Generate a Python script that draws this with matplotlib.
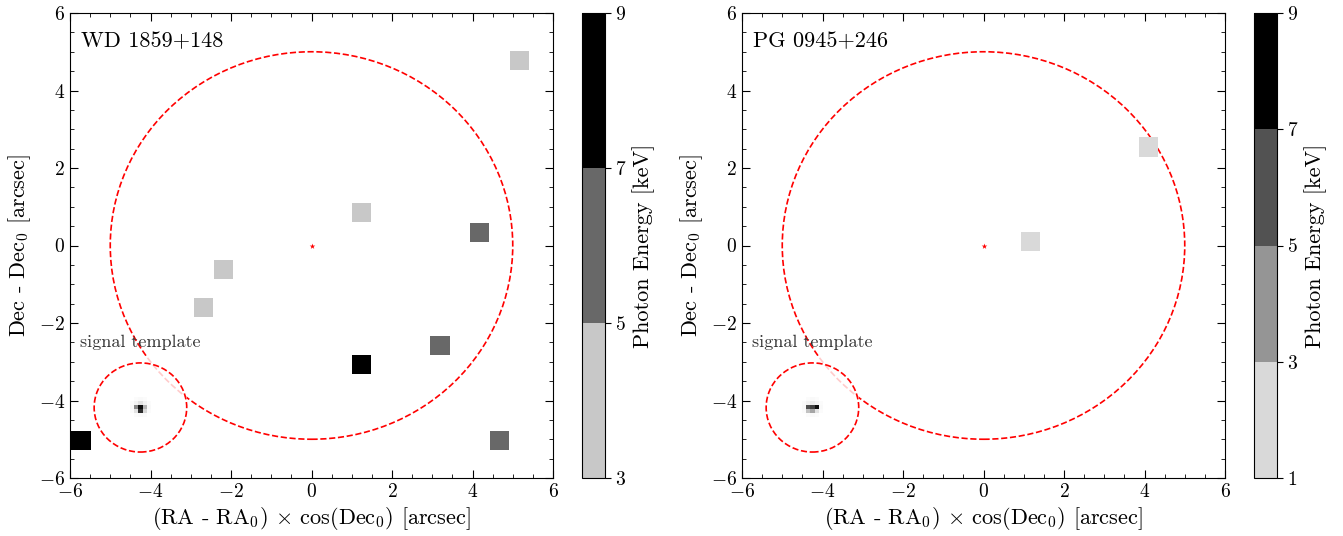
import matplotlib
matplotlib.use("Agg")
import matplotlib.pyplot as plt
import numpy as np
from matplotlib.colors import ListedColormap, BoundaryNorm
from matplotlib.patches import Circle, Rectangle
from matplotlib.ticker import MultipleLocator

plt.rcParams['font.family'] = 'serif'
plt.rcParams['font.serif'] = ['cmr10']
plt.rcParams['mathtext.fontset'] = 'cm'
plt.rcParams['axes.formatter.use_mathtext'] = True
plt.rcParams['axes.unicode_minus'] = True

W, H = 1343, 536

# photons, WD 1859+148
wd_x = [5.17, 1.24, 4.17, -2.19, -2.68, 3.2, 1.24, 4.67, -5.72]
wd_y = [4.77, 0.85, 0.34, -0.62, -1.6, -2.58, -3.07, -5.03, -5.03]
wd_e = [4.0, 4.0, 6.0, 4.0, 4.0, 6.0, 8.0, 6.0, 8.0]
wd_bounds = [3, 5, 7, 9]
wd_colors = ['#c8c8c8', '#686868', '#000000']

# photons, PG 0945+246
pg_x = [4.1, 1.17]
pg_y = [2.55, 0.1]
pg_e = [2.0, 2.0]
pg_bounds = [1, 3, 5, 7, 9]
pg_colors = ['#d9d9d9', '#959595', '#525252', '#000000']

# signal template (psf image, 5x5 small pixels)
template = np.array([
    [0.00, 0.03, 0.05, 0.03, 0.00],
    [0.03, 0.10, 0.20, 0.10, 0.03],
    [0.05, 0.55, 0.95, 0.40, 0.05],
    [0.03, 0.20, 0.85, 0.25, 0.03],
    [0.00, 0.03, 0.05, 0.03, 0.00],
])
template_pg = np.array([
    [0.00, 0.03, 0.05, 0.03, 0.00],
    [0.03, 0.10, 0.15, 0.10, 0.03],
    [0.05, 0.75, 0.80, 0.95, 0.05],
    [0.03, 0.35, 0.45, 0.20, 0.03],
    [0.00, 0.03, 0.05, 0.03, 0.00],
])

R_EXTRACT = 5.0
TPL_X, TPL_Y, TPL_R = -4.25, -4.18, 1.15


def px_rect(x0, y0, x1, y1):
    return [x0 / W, 1 - y1 / H, (x1 - x0) / W, (y1 - y0) / H]


def panel(ax, cax, name, xs, ys, es, bounds, colors, tpl):
    cmap = ListedColormap(colors)
    norm = BoundaryNorm(bounds, cmap.N)

    ax.add_patch(Circle((0, 0), R_EXTRACT, fill=False, ec='red', ls='--',
                        lw=1.2, zorder=1))
    sc = ax.scatter(xs, ys, c=es, cmap=cmap, norm=norm, marker='s', s=200,
                    edgecolors='none', zorder=3)
    ax.scatter([0], [0], marker='*', color='red', s=18, lw=0, zorder=4)

    # template inset: faded backdrop, circle and image
    ax.add_patch(Rectangle((-5.4, -5.4), 2.3, 2.55, fc='white', ec='none',
                           alpha=0.8, zorder=2))
    ax.add_patch(Circle((TPL_X, TPL_Y), TPL_R, fill=False, ec='red', ls='--',
                        lw=1.2, zorder=5))
    d = 0.25
    ax.imshow(tpl, cmap='Greys', vmin=0, vmax=1, origin='upper',
              extent=[TPL_X - d, TPL_X + d, TPL_Y - d, TPL_Y + d],
              interpolation='nearest', zorder=5, aspect='auto')
    ax.text(-6 + 0.25, -2.5, 'signal template', fontsize=13, color='#333333',
            va='center', ha='left', zorder=6)
    ax.text(0.023, 0.96, name, transform=ax.transAxes, fontsize=16,
            va='top', ha='left')

    ax.set_xlim(-6, 6)
    ax.set_ylim(-6, 6)
    ax.set_xticks([-6, -4, -2, 0, 2, 4, 6])
    ax.set_yticks([-6, -4, -2, 0, 2, 4, 6])
    ax.xaxis.set_minor_locator(MultipleLocator(0.5))
    ax.yaxis.set_minor_locator(MultipleLocator(0.5))
    ax.tick_params(which='both', direction='in', top=True, right=True,
                   labelsize=14)
    ax.tick_params(which='major', length=6)
    ax.tick_params(which='minor', length=3)
    ax.set_xlabel(r'(RA - RA$_0$) $\times$ cos(Dec$_0$) [arcsec]', fontsize=16,
                  labelpad=3)
    ax.set_ylabel(r'Dec - Dec$_0$ [arcsec]', fontsize=16)

    cb = plt.colorbar(sc, cax=cax, boundaries=bounds, ticks=bounds)
    cb.ax.tick_params(labelsize=14, length=4)
    cb.set_label('Photon Energy [keV]', fontsize=16)
    cb.outline.set_linewidth(0.8)


fig = plt.figure(figsize=(W / 100, H / 100), dpi=100)
ax1 = fig.add_axes(px_rect(70, 13, 553, 478))
cax1 = fig.add_axes(px_rect(582, 13, 605, 478))
ax2 = fig.add_axes(px_rect(742, 13, 1225, 478))
cax2 = fig.add_axes(px_rect(1254, 13, 1277, 478))

panel(ax1, cax1, 'WD 1859+148', wd_x, wd_y, wd_e, wd_bounds, wd_colors, template)
panel(ax2, cax2, 'PG 0945+246', pg_x, pg_y, pg_e, pg_bounds, pg_colors, template_pg)

fig.savefig('out.png', dpi=100)
